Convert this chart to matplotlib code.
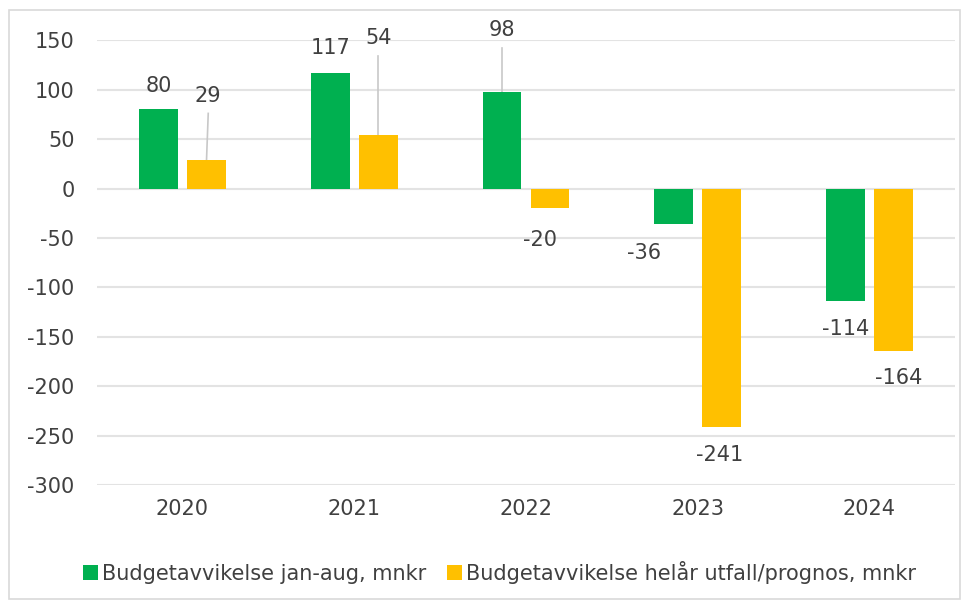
import matplotlib.pyplot as plt
import matplotlib.patches as mpatches
import numpy as np

years = ['2020', '2021', '2022', '2023', '2024']
jan_aug = [80, 117, 98, -36, -114]
helar = [29, 54, -20, -241, -164]
series_names = ['Budgetavvikelse jan-aug, mnkr', 'Budgetavvikelse helår utfall/prognos, mnkr']
yticks = [150, 100, 50, 0, -50, -100, -150, -200, -250, -300]

# label placement (offset in x units, label y in data units, leader line?)
lab_jan = [(0.0, 104, False), (0.0, 142, False), (0.0, 160, True), (-0.17, -65, False), (0.0, -142, False)]
lab_hel = [(0.01, 94, True), (0.0, 152, True), (-0.06, -52, False), (-0.01, -270, False), (0.03, -192, False)]

green = '#00B050'
yellow = '#FFC000'
txt = '#404040'

plt.rcParams['font.family'] = ['DejaVu Sans']
plt.rcParams['axes.unicode_minus'] = False
fig = plt.figure(figsize=(9.66, 6.01), dpi=100)
ax = fig.add_axes([0.100, 0.193, 0.889, 0.740])

x = np.arange(len(years))
w = 0.225
off = 0.14
ax.bar(x - off, jan_aug, w, color=green, label=series_names[0], zorder=3)
ax.bar(x + off, helar, w, color=yellow, label=series_names[1], zorder=3)

ax.set_xlim(-0.5, 4.5)
ax.set_ylim(-300, 150)
ax.set_yticks(yticks)
ax.set_xticks(x)
ax.set_xticklabels(years)
ax.tick_params(length=0, labelsize=15, colors=txt, pad=10)
ax.tick_params(axis='y', pad=16)
ax.grid(axis='y', color='#E3E3E3', linewidth=1.5, zorder=0)
for s in ax.spines.values():
    s.set_visible(False)


def put_labels(vals, offs, xoff):
    for i, v in enumerate(vals):
        dx, ly, lead = offs[i]
        lx = i + xoff + dx
        ax.text(lx, ly, str(v), ha='center', va='center', fontsize=15, color=txt, clip_on=False, zorder=4)
        if lead:
            ax.plot([lx, i + xoff], [ly - 18, v], color='#C8C8C8', linewidth=1.2, clip_on=False, zorder=2)


put_labels(jan_aug, lab_jan, -off)
put_labels(helar, lab_hel, off)

fig.legend(loc='center', bbox_to_anchor=(0.517, 0.048), ncol=2, frameon=False,
           fontsize=15, handlelength=0.7, handleheight=0.7, handletextpad=0.2,
           columnspacing=1.0, labelcolor=txt)

fig.patches.append(mpatches.Rectangle((0.009, 0.004), 0.985, 0.98, transform=fig.transFigure,
                                      fill=False, edgecolor='#D9D9D9', linewidth=1.2))

plt.savefig('out.png', dpi=100)
